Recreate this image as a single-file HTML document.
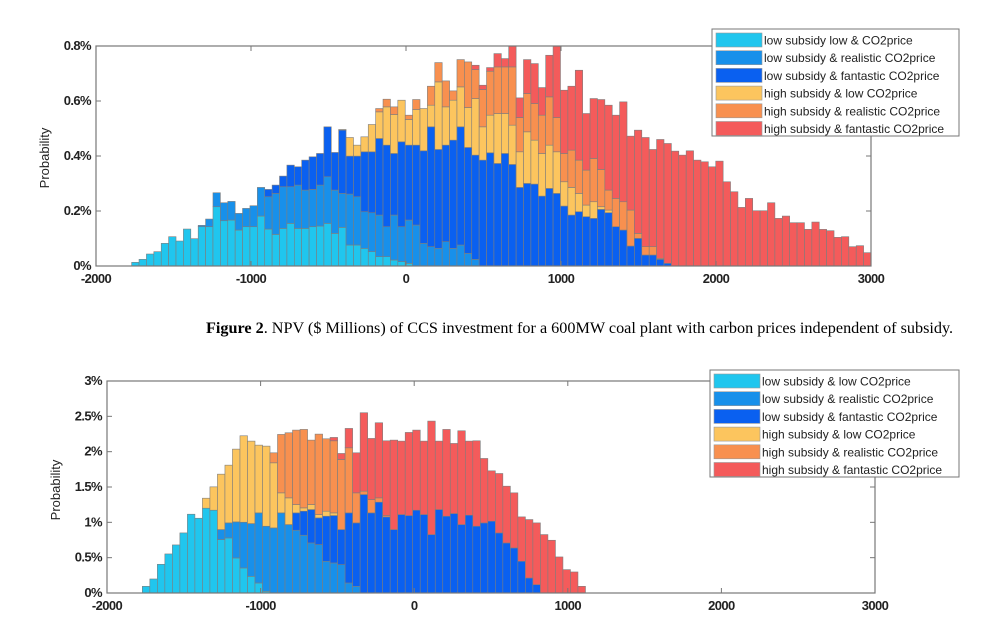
<!DOCTYPE html>
<html><head><meta charset="utf-8"><style>
body{margin:0;background:#fff;width:999px;height:633px;overflow:hidden}
svg{position:absolute;left:0;top:0}
.t{font-family:"Liberation Sans",sans-serif;font-weight:bold;font-size:13px;fill:#222;letter-spacing:-0.6px}
.lg{font-family:"Liberation Sans",sans-serif;font-size:12px;fill:#222}
.yl{font-family:"Liberation Sans",sans-serif;font-size:13px;fill:#222}
.cap{font-family:"Liberation Serif",serif;font-size:16.2px;fill:#000}
</style></head><body>
<svg id="svg" width="999" height="633">
<text class="cap" x="206" y="333"><tspan font-weight="bold">Figure 2</tspan>. NPV ($ Millions) of CCS investment for a 600MW coal plant with carbon prices independent of subsidy.</text>
</svg>
<script>
const seriesNames=["low subsidy low & CO2price","low subsidy & realistic CO2price","low subsidy & fantastic CO2price","high subsidy & low CO2price","high subsidy & realistic CO2price","high subsidy & fantastic CO2price"];
const bottomNames=["low subsidy & low CO2price","low subsidy & realistic CO2price","low subsidy & fantastic CO2price","high subsidy & low CO2price","high subsidy & realistic CO2price","high subsidy & fantastic CO2price"];
const colors=["#20c6ee","#1890ea","#0a60f0","#fcc55e","#f8904f","#f45b5b"];
const topXTicks=[-2000,-1000,0,1000,2000,3000];
const topYTicks=[0,0.2,0.4,0.6,0.8];
const topYLabels=["0%","0.2%","0.4%","0.6%","0.8%"];
const botXTicks=[-2000,-1000,0,1000,2000,3000];
const botYTicks=[0,0.5,1,1.5,2,2.5,3];
const botYLabels=["0%","0.5%","1%","1.5%","2%","2.5%","3%"];
const topN=82600, botN=21170;
const topBinStart=-1770, topBinEnd=3000, botBinStart=-1770, botBinEnd=1115;
const topCounts=[
[11,0,0,0,0,0],[20,0,0,0,0,0],[36,0,0,0,0,0],[43,0,0,0,0,0],[68,0,0,0,0,0],[88,0,0,0,0,0],[75,0,0,0,0,0],[111,0,0,0,0,0],[82,0,0,0,0,0],
[118,4,0,0,0,0],[118,23,0,0,0,0],[178,42,0,0,0,0],[136,54,0,0,0,0],[138,56,0,0,0,0],[108,50,0,0,0,0],[118,55,0,0,0,0],[118,63,0,0,0,0],[150,86,0,0,0,0],
[111,97,22,0,0,0],[95,123,25,0,0,0],[113,125,32,0,0,0],[128,110,65,0,0,0],[113,130,55,0,0,0],[113,115,90,0,0,0],[118,112,98,0,0,0],[120,123,95,0,0,0],[128,140,150,0,0,0],[98,130,113,0,0,0],
[116,102,190,2,0,0],[63,153,114,56,0,0],[63,145,122,33,0,0],[53,110,180,45,0,0],[43,117,183,82,0,0],[28,125,230,80,10,0],[28,90,245,115,23,0],[18,135,185,117,23,0],[13,105,255,125,0,0],[8,130,225,77,13,0],
[0,123,240,107,30,0],[0,68,278,127,0,0],[0,58,360,65,57,0],[0,53,297,203,58,0],[0,73,290,115,78,0],[0,53,325,120,28,0],[0,63,355,120,82,0],[0,38,318,120,137,0],[0,20,313,170,87,13],[0,0,318,100,112,13],
[0,0,340,113,132,11],[0,0,308,150,140,40],[0,0,338,120,140,25],[0,0,305,118,175,62],[0,0,236,107,103,59],[0,0,248,155,115,102],[0,0,246,132,110,120],[0,0,210,128,115,83],[0,0,233,130,145,125],[0,0,218,125,103,214],
[0,0,180,73,85,190],[0,0,153,83,112,192],[0,0,163,55,100,270],[0,0,148,35,105,170],[0,0,143,50,130,180],[0,0,170,8,112,210],[0,0,160,8,60,255],[0,0,118,0,85,250],[0,0,108,0,85,300],[0,0,60,0,108,222],
[0,0,83,0,15,310],[0,0,33,0,25,328],[0,0,33,0,25,292],[0,0,20,0,3,357],[0,0,8,0,0,360],
[0,0,0,0,0,345],[0,0,0,0,0,333],[0,0,0,0,0,346],[0,0,0,0,0,318],[0,0,0,0,0,313],[0,0,0,0,0,298],[0,0,0,0,0,315],[0,0,0,0,0,253],[0,0,0,0,0,223],[0,0,0,0,0,176],
[0,0,0,0,0,203],[0,0,0,0,0,166],[0,0,0,0,0,166],[0,0,0,0,0,190],[0,0,0,0,0,143],[0,0,0,0,0,150],[0,0,0,0,0,130],[0,0,0,0,0,130],[0,0,0,0,0,110],[0,0,0,0,0,132],
[0,0,0,0,0,110],[0,0,0,0,0,106],[0,0,0,0,0,86],[0,0,0,0,0,88],[0,0,0,0,0,58],[0,0,0,0,0,61],[0,0,0,0,0,40]];
const botCounts=[
[20,0,0,0,0,0],[42,0,0,0,0,0],[86,0,0,0,0,0],[117,0,0,0,0,0],[144,0,0,0,0,0],[180,0,0,0,0,0],[236,0,0,0,0,0],[224,0,0,0,0,0],
[254,0,0,30,0,0],[248,0,0,70,0,0],[160,30,0,166,0,0],[165,45,0,173,0,0],[105,108,0,218,0,0],[75,137,0,259,0,0],[50,158,0,247,0,0],[30,210,0,203,0,0],[5,195,0,240,0,0],
[0,195,0,195,30,0],[0,240,0,60,175,0],[0,205,0,80,195,0],[0,188,52,25,223,0],[0,173,72,10,235,0],[0,150,100,15,193,0],[0,145,80,10,241,0],[0,95,135,15,217,0],[0,90,142,8,216,10],
[0,85,105,0,210,18],[0,30,210,0,195,58],[0,20,190,0,90,120],[0,0,295,0,10,235],[0,0,240,0,40,183],[0,0,272,0,13,225],[0,0,228,0,4,224],[0,0,190,0,0,268],
[0,0,235,0,0,220],[0,0,232,0,0,249],[0,0,248,0,0,240],[0,0,235,0,0,220],[0,0,175,0,0,340],[0,0,250,0,0,205],[0,0,230,0,0,260],[0,0,238,0,0,210],[0,0,205,0,0,281],[0,0,233,0,0,222],
[0,0,200,0,0,256],[0,0,210,0,0,193],[0,0,215,0,0,151],[0,0,180,0,0,178],[0,0,150,0,0,170],[0,0,135,0,0,165],[0,0,95,0,0,133],[0,0,45,0,0,175],[0,0,25,0,0,185],
[0,0,0,0,0,175],[0,0,0,0,0,158],[0,0,0,0,0,108],[0,0,0,0,0,70],[0,0,0,0,0,63],[0,0,0,0,0,20]];

const NS="http://www.w3.org/2000/svg";
const svg=document.getElementById('svg');
function mk(tag,attrs,parent){const e=document.createElementNS(NS,tag);for(const k in attrs)e.setAttribute(k,attrs[k]);(parent||svg).appendChild(e);return e;}

function chart(cfg){
  const g=mk('g',{});
  
  
  const xs=v=>cfg.L+(v-cfg.xmin)/(cfg.xmax-cfg.xmin)*(cfg.R-cfg.L);
  const ys=p=>cfg.B-(p/cfg.ymax)*(cfg.B-cfg.T);
  const nb=cfg.counts.length, bw=(cfg.binEnd-cfg.binStart)/nb;
  const bars=mk('g',{},g);
  
  
  cfg.counts.forEach((row,i)=>{
    let cum=0;
    const x0=xs(cfg.binStart+i*bw), x1=xs(cfg.binStart+(i+1)*bw);
    row.forEach((c,k)=>{
      if(c<=0)return;
      const p0=cum/cfg.N*100; cum+=c; const p1=Math.min(cum/cfg.N*100,cfg.ymax);
      const y1=ys(p1), y0=ys(p0);
      if(y0-y1<=0)return;
      const r=mk('rect',{x:x0,y:y1,width:x1-x0,height:y0-y1,fill:colors[k],stroke:'#7d7d7d','stroke-width':0.6},bars);
      
      
    });
  });
  const box=mk('rect',{x:cfg.L,y:cfg.T,width:cfg.R-cfg.L,height:cfg.B-cfg.T,fill:'none',stroke:'#777','stroke-width':1.2},g);
  
  
  cfg.xt.forEach(v=>{
    const x=xs(v);
    mk('line',{x1:x,x2:x,y1:cfg.B,y2:cfg.B-5,stroke:'#777'},g);
    mk('line',{x1:x,x2:x,y1:cfg.T,y2:cfg.T+5,stroke:'#777'},g);
    const t=mk('text',{x:x,y:cfg.B+17,'text-anchor':'middle',class:'t'},g);
    t.textContent=v;
    
    
  });
  cfg.yt.forEach((p,i)=>{
    const y=ys(p);
    mk('line',{x1:cfg.L,x2:cfg.L+5,y1:y,y2:y,stroke:'#777'},g);
    mk('line',{x1:cfg.R,x2:cfg.R-5,y1:y,y2:y,stroke:'#777'},g);
    const t=mk('text',{x:cfg.L-5,y:y+4,'text-anchor':'end',class:'t'},g);
    t.textContent=cfg.yl[i];
    
    
  });
  const yl=mk('text',{x:0,y:0,class:'yl','text-anchor':'middle',transform:`translate(${cfg.ylx},${cfg.yly}) rotate(-90)`},g);
  yl.textContent='Probability';
  
  
  const lg=mk('g',{},g);
  
  
  mk('rect',{x:cfg.lx,y:cfg.ly,width:cfg.lw,height:107,fill:'#fff',stroke:'#777','stroke-width':1},lg);
  cfg.names.forEach((n,k)=>{
    const y=cfg.ly+3+k*17.7;
    mk('rect',{x:cfg.lx+4,y:y+1,width:46,height:14,fill:colors[k],stroke:'#999','stroke-width':0.6},lg);
    const t=mk('text',{x:cfg.lx+52,y:y+12.5,class:'lg'},lg);
    t.textContent=n;
    
    
  });
}
chart({name:'top-chart',L:96,R:871,T:46,B:266,xmin:-2000,xmax:3000,ymax:0.8,N:topN,counts:topCounts,binStart:topBinStart,binEnd:topBinEnd,xt:topXTicks,yt:topYTicks,yl:topYLabels,ylx:49,yly:158,names:seriesNames,lx:712,ly:29,lw:247});
chart({name:'bottom-chart',L:107,R:875,T:381,B:593,xmin:-2000,xmax:3000,ymax:3,N:botN,counts:botCounts,binStart:botBinStart,binEnd:botBinEnd,xt:botXTicks,yt:botYTicks,yl:botYLabels,ylx:60,yly:490,names:bottomNames,lx:710,ly:370,lw:249});
</script>
</body></html>
